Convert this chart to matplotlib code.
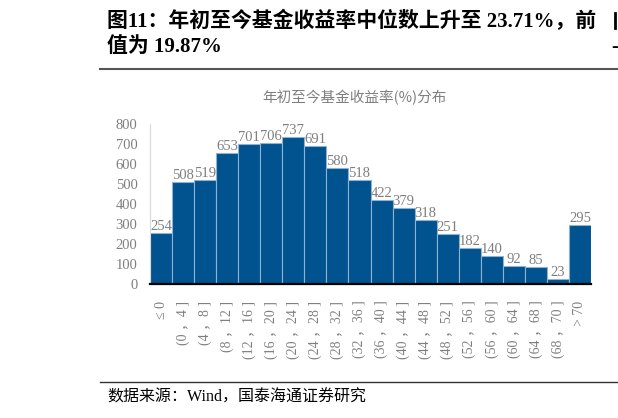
import matplotlib.pyplot as plt
import numpy as np

plt.rcParams['font.family'] = ['Liberation Serif', 'Noto Sans CJK SC']

# 数据
bins = ['≤ 0', '(0 ，4 ]', '(4 ，8 ]', '(8 ，12 ]', '(12 ，16 ]', '(16 ，20 ]', '(20 ，24 ]',
        '(24 ，28 ]', '(28 ，32 ]', '(32 ，36 ]', '(36 ，40 ]', '(40 ，44 ]', '(44 ，48 ]',
        '(48 ，52 ]', '(52 ，56 ]', '(56 ，60 ]', '(60 ，64 ]', '(64 ，68 ]', '(68 ，70 ]', '> 70']
counts = [254, 508, 519, 653, 701, 706, 737, 691, 580, 518, 422, 379, 318,
          251, 182, 140, 92, 85, 23, 295]
yticks = [0, 100, 200, 300, 400, 500, 600, 700, 800]

grey = '#7f7f7f'
blue = '#00538f'

fig = plt.figure(figsize=(6.18, 4.18), dpi=100)
W, H = 618, 418

ax = fig.add_axes([150 / W, 1 - 284 / H, 441 / W, 160 / H])
x = np.arange(len(counts))
bars = ax.bar(x, counts, width=1.0, color=blue, edgecolor='#8fb2d0', linewidth=0.8)
ax.bar_label(bars, labels=[str(c) for c in counts], padding=0, color=grey, fontsize=10.5)

ax.set_xlim(-0.5, len(counts) - 0.5)
ax.set_ylim(0, 800)
ax.set_yticks(yticks)
ax.set_yticklabels([str(v) for v in yticks], color=grey, fontsize=10.5)
ax.set_xticks(x)
ax.set_xticklabels(bins, rotation=90, color=grey, fontsize=10)
ax.tick_params(axis='both', length=0)
ax.tick_params(axis='y', pad=9)
ax.tick_params(axis='x', pad=12)
for s in ['top', 'right']:
    ax.spines[s].set_visible(False)
ax.spines['left'].set_color('#d9d9d9')
ax.spines['bottom'].set_color('black')
ax.spines['bottom'].set_linewidth(1.6)
ax.patch.set_alpha(0)

# 图表标题
fig.text(355 / W, 1 - 97 / H, '年初至今基金收益率(%)分布', ha='center', va='center',
         color=grey, fontsize=10.5, family=['Noto Sans CJK SC'])

# 页面标题
fig.text(107 / W, 1 - 21 / H, '图11：年初至今基金收益率中位数上升至 23.71%，前',
         ha='left', va='center', fontsize=15, fontweight='bold')
fig.text(107 / W, 1 - 47 / H, '值为 19.87%', ha='left', va='center',
         fontsize=15, fontweight='bold')
fig.text(611 / W, 1 - 47 / H, '-', ha='left', va='center', fontsize=15, fontweight='bold')
# 右侧被裁切的下一栏标题残笔
fig.add_artist(plt.Line2D([615 / W] * 2, [1 - 13 / H, 1 - 28 / H], color='black', linewidth=2))

fig.add_artist(plt.Line2D([100 / W, 1], [1 - 69 / H] * 2, color='#555555', linewidth=1.5))
fig.add_artist(plt.Line2D([100 / W, 1], [1 - 382 / H] * 2, color='#333333', linewidth=1.0))

# 数据来源
fig.text(107 / W, 1 - 398 / H, '数据来源：Wind，国泰海通证券研究', ha='left', va='center',
         fontsize=11.5)

fig.savefig('out.png', dpi=100)
